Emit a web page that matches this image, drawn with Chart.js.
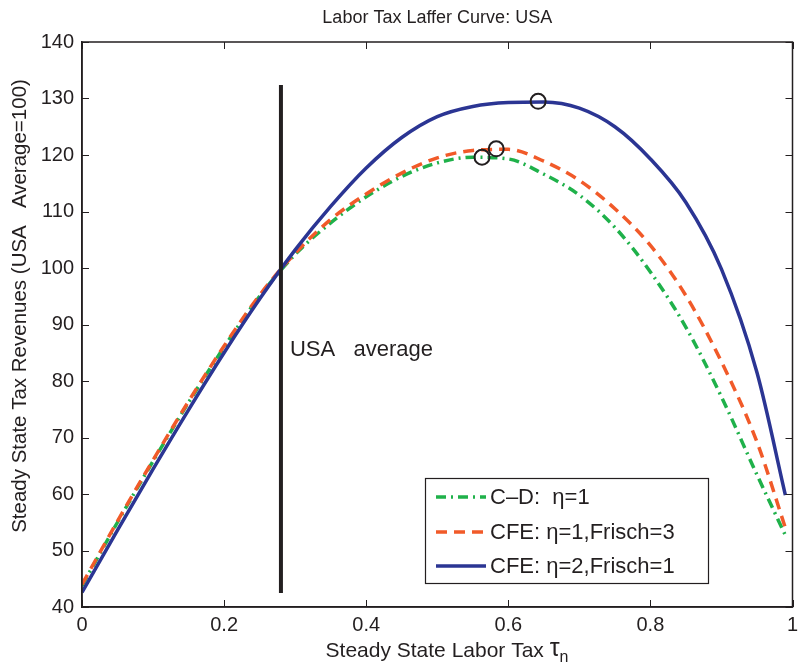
<!DOCTYPE html>
<html>
<head>
<meta charset="utf-8">
<script src="https://cdn.jsdelivr.net/npm/chart.js@4/dist/chart.umd.min.js"></script>
<style>
html,body{margin:0;padding:0;background:#fff;}
#wrap{width:802px;height:672px;}
</style>
</head>
<body>
<div id="wrap"><canvas id="c" width="802" height="672"></canvas></div>
<script>
const taxRates = [0,0.05,0.10,0.15,0.20,0.25,0.30,0.35,0.40,0.45,0.50,0.55,0.60,0.65,0.70,0.75,0.80,0.85,0.90,0.95,0.99];
const cdEta1 = [43.8,55.0,65.8,76.2,86.0,95.0,102.4,108.0,112.6,116.2,118.6,119.6,119.3,116.6,112.9,107.2,99.3,89.5,77.2,63.4,52.7];
const cfeEta1Frisch3 = [44.0,55.2,66.0,76.4,86.2,95.2,102.6,108.6,113.1,116.8,119.5,120.8,121.0,118.9,115.5,110.5,104.0,95.1,83.4,69.2,54.0];
const cfeEta2Frisch1 = [42.6,53.6,64.4,74.9,85.0,94.5,103.2,110.9,117.7,123.1,126.8,128.6,129.3,129.4,128.3,125.0,119.3,111.6,99.8,81.5,59.8];
const peakTax = [0.563,0.583,0.642];
const peakRev = [119.6,121.1,129.5];
const usaAvgTax = 0.28;
const usaLineRange = [42.5,132.4];
const seriesLabels = ['C\u2013D:  \u03b7=1','CFE: \u03b7=1,Frisch=3','CFE: \u03b7=2,Frisch=1'];
const xTicks = [0,0.2,0.4,0.6,0.8,1];
const yTicks = [40,50,60,70,80,90,100,110,120,130,140];
const titleText = 'Labor Tax Laffer Curve: USA';
const xTitleMain = 'Steady State Labor Tax ';
const xTitleSym = '\u03c4';
const xTitleSub = 'n';
const yTitle = 'Steady State Tax Revenues (USA   Average=100)';
const noteText = 'USA   average';

const FONT = '"Liberation Sans", Arial, sans-serif';
const GREEN = '#1fb14a', ORANGE = '#f15a29', BLUE = '#2b3593', INK = '#231f20';

const pts = ys => taxRates.map((x,i)=>({x:x,y:ys[i]}));

const styles = [
  {color:GREEN, dash:[10,5,2,5], width:3.5},
  {color:ORANGE, dash:[11,7], width:3.5},
  {color:BLUE, dash:[], width:3.5}
];

const boxPlugin = {
  id:'boxPlugin',
  afterDraw(chart){
    const ctx = chart.ctx, a = chart.chartArea;
    const xs = chart.scales.x, ys = chart.scales.y;
    ctx.save();
    ctx.strokeStyle = INK; ctx.lineWidth = 1.5;
    ctx.strokeRect(a.left, a.top, a.right-a.left, a.bottom-a.top);
    ctx.lineWidth = 1;
    const L = 7;
    xTicks.forEach(v=>{
      const p = Math.round(xs.getPixelForValue(v))+0.5;
      ctx.beginPath(); ctx.moveTo(p,a.bottom); ctx.lineTo(p,a.bottom-L);
      ctx.moveTo(p,a.top); ctx.lineTo(p,a.top+L); ctx.stroke();
    });
    yTicks.forEach(v=>{
      const p = Math.round(ys.getPixelForValue(v))+0.5;
      ctx.beginPath(); ctx.moveTo(a.left,p); ctx.lineTo(a.left+L,p);
      ctx.moveTo(a.right,p); ctx.lineTo(a.right-L,p); ctx.stroke();
    });
    // title
    ctx.fillStyle = INK;
    ctx.font = '18px ' + FONT;
    ctx.textAlign = 'center'; ctx.textBaseline = 'middle';
    ctx.fillText(titleText, (a.left+a.right)/2, 18);
    // x title
    ctx.textAlign = 'left'; ctx.textBaseline = 'alphabetic';
    ctx.font = '21px ' + FONT;
    const w1 = ctx.measureText(xTitleMain).width;
    ctx.font = '25px ' + FONT;
    const w2 = ctx.measureText(xTitleSym).width;
    ctx.font = '16px ' + FONT;
    const w3 = ctx.measureText(xTitleSub).width;
    let tx = 447 - (w1+w2+w3)/2;
    const base = 657;
    ctx.font = '21px ' + FONT; ctx.fillText(xTitleMain, tx, base); tx += w1;
    ctx.font = '25px ' + FONT; ctx.fillText(xTitleSym, tx, base-1); tx += w2;
    ctx.font = '16px ' + FONT; ctx.fillText(xTitleSub, tx, base+5);
    // y title
    ctx.save();
    ctx.textAlign = 'center'; ctx.textBaseline = 'middle';
    ctx.translate(20, 306);
    ctx.rotate(-Math.PI/2);
    ctx.font = '20.5px ' + FONT;
    ctx.fillText(yTitle, 0, 0);
    ctx.restore();
    // note
    ctx.font = '22px ' + FONT;
    ctx.textAlign = 'left'; ctx.textBaseline = 'middle';
    ctx.fillText(noteText, xs.getPixelForValue(usaAvgTax)+9, ys.getPixelForValue(85.5));
    // legend
    const bx = 425, by = 478, bw = 283, bh = 105;
    ctx.fillStyle = '#fff';
    ctx.fillRect(bx,by,bw,bh);
    ctx.lineWidth = 1.2; ctx.strokeStyle = INK;
    ctx.strokeRect(bx+0.5,by+0.5,bw,bh);
    const rows = [497,532,566];
    styles.forEach((s,i)=>{
      ctx.save();
      ctx.strokeStyle = s.color; ctx.lineWidth = s.width; ctx.setLineDash(s.dash);
      ctx.beginPath(); ctx.moveTo(436,rows[i]); ctx.lineTo(486,rows[i]); ctx.stroke();
      ctx.restore();
      ctx.fillStyle = INK; ctx.font = '22px ' + FONT;
      ctx.textAlign='left'; ctx.textBaseline='middle';
      ctx.fillText(seriesLabels[i], 490, rows[i]+1);
    });
    ctx.restore();
  }
};

const datasets = styles.map((s,i)=>({
  label: seriesLabels[i],
  data: pts([cdEta1,cfeEta1Frisch3,cfeEta2Frisch1][i]),
  borderColor: s.color, borderWidth: s.width, borderDash: s.dash,
  pointRadius: 0, fill:false, cubicInterpolationMode:'monotone',
  order: 3-i
}));
datasets.push({
  label:'USA average',
  data:[{x:usaAvgTax,y:usaLineRange[0]},{x:usaAvgTax,y:usaLineRange[1]}],
  borderColor: INK, borderWidth:4, pointRadius:0, order:0
});
datasets.push({
  label:'peaks', type:'scatter',
  data: peakTax.map((x,i)=>({x:x,y:peakRev[i]})),
  pointStyle:'circle', pointRadius:7.5, pointBorderWidth:2,
  pointBorderColor: INK, pointBackgroundColor:'rgba(0,0,0,0)', showLine:false, order:-1
});

new Chart(document.getElementById('c'), {
  type:'line',
  data:{datasets},
  plugins:[boxPlugin],
  options:{
    responsive:false, animation:false,
    layout:{padding:{top:42,right:4,left:0,bottom:0}},
    plugins:{legend:{display:false}, tooltip:{enabled:false}, title:{display:false}},
    scales:{
      x:{
        type:'linear', min:0, max:1,
        afterBuildTicks(s){ s.ticks = xTicks.map(v=>({value:v})); },
        afterFit(s){ s.height = 65; s.paddingLeft = 0; s.paddingRight = 0; },
        ticks:{ color:INK, font:{family:FONT,size:20}, padding:6, maxRotation:0,
          callback:v=>String(v) },
        grid:{display:true, drawOnChartArea:false, drawTicks:false},
        border:{display:true, color:INK, width:1.5},
        title:{display:false}
      },
      y:{
        type:'linear', min:40, max:140,
        afterBuildTicks(s){ s.ticks = yTicks.map(v=>({value:v})); },
        afterFit(s){ s.width = 82; s.paddingTop = 0; s.paddingBottom = 0; },
        ticks:{ color:INK, font:{family:FONT,size:20}, padding:8 },
        grid:{display:true, drawOnChartArea:false, drawTicks:false},
        border:{display:true, color:INK, width:1.5},
        title:{display:false}
      }
    }
  }
});
</script>
</body>
</html>
